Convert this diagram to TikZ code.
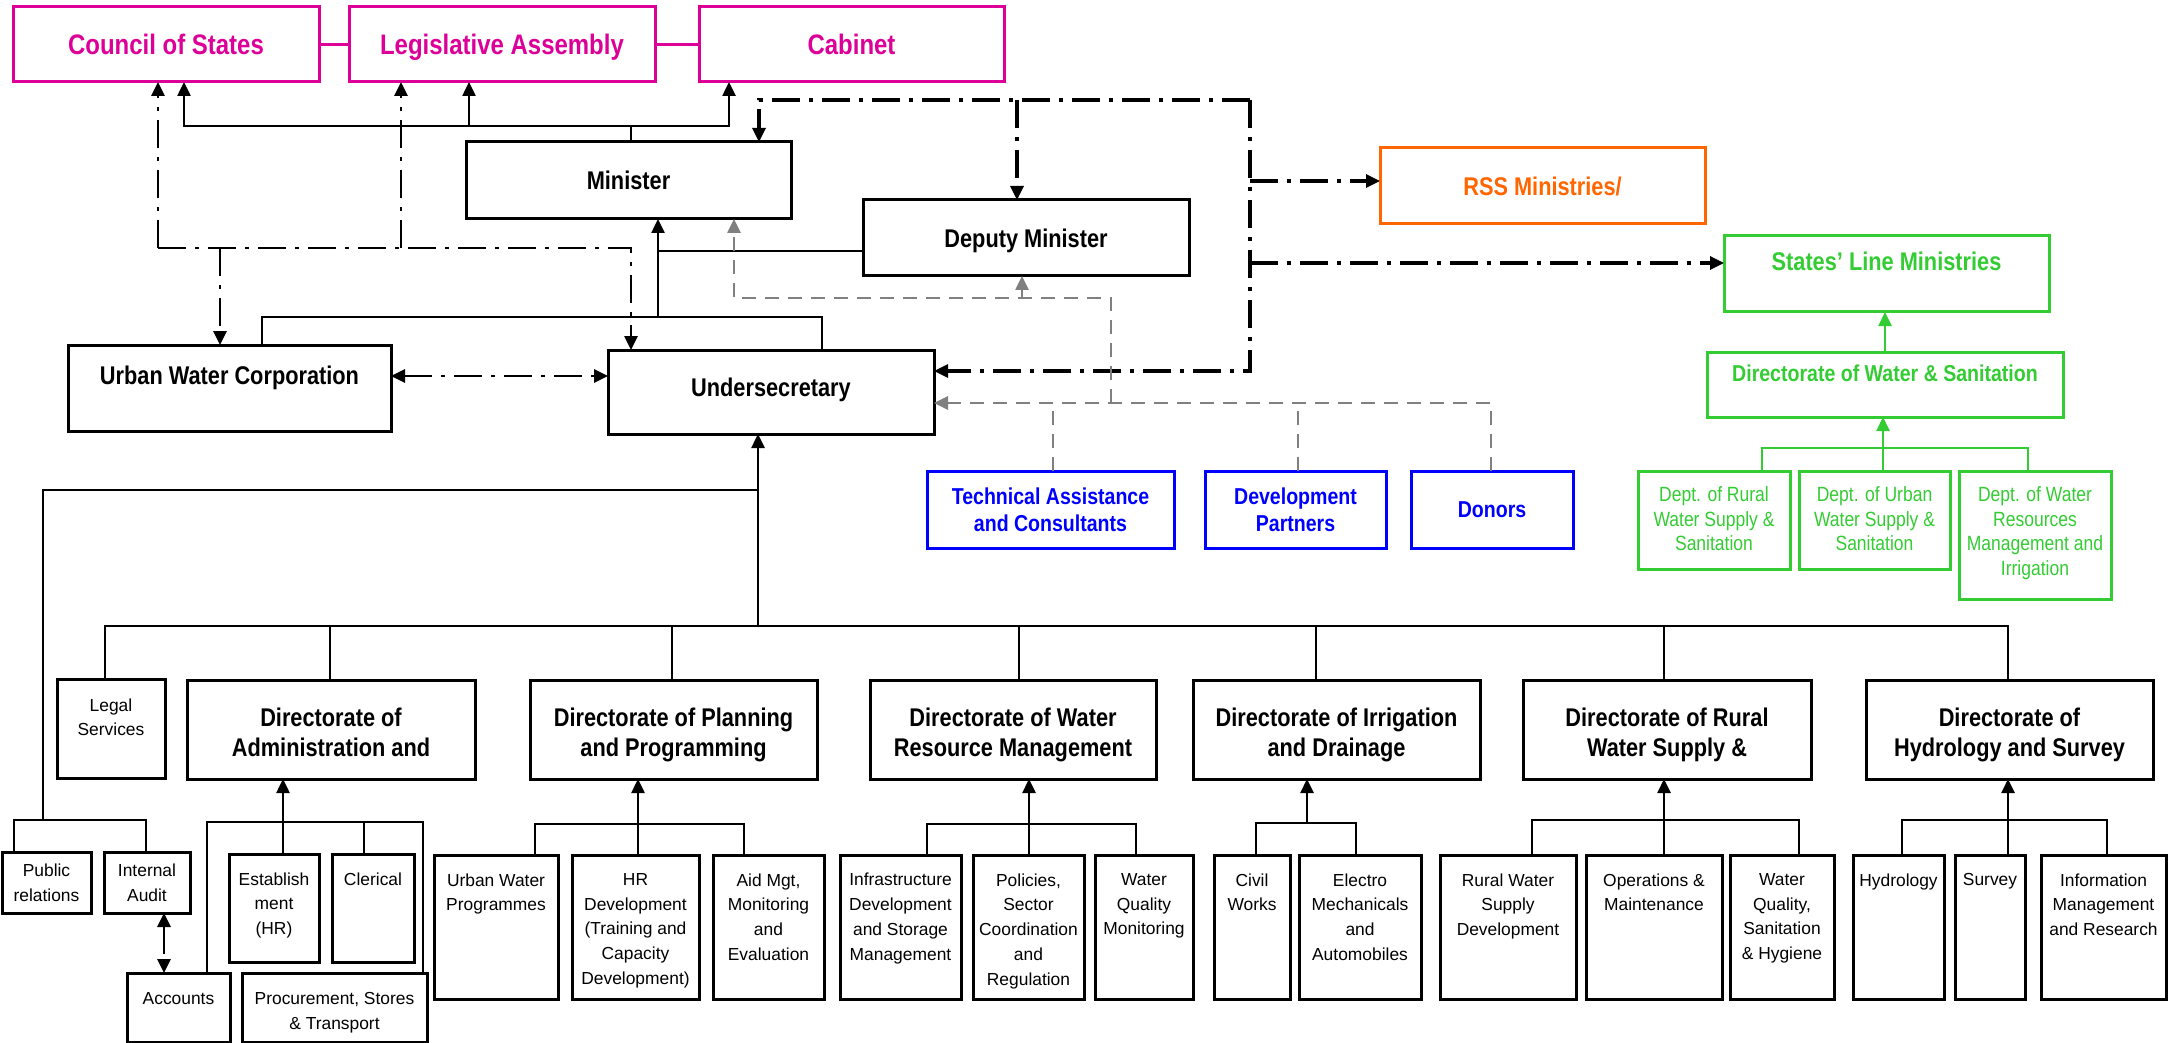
\documentclass[tikz,border=0pt]{standalone}
\usepackage{fontspec}
\setmainfont{Liberation Sans}
\newfontfamily\narrowfont{Liberation Sans}[FakeStretch=0.85]
\usetikzlibrary{arrows.meta}
\definecolor{pinkc}{RGB}{220,0,152}
\definecolor{orangec}{RGB}{255,102,0}
\definecolor{greenc}{RGB}{51,204,51}
\definecolor{bluec}{RGB}{0,0,255}
\definecolor{grayc}{RGB}{128,128,128}
\newcommand\mkbox[7]{\node[#1, minimum width={(#5-#3)*0.5pt}, minimum height={(#6-#4)*0.5pt}] (#2) at ({(#3+#5)/2},{(#4+#6)/2}) {#7};}
\newcommand\tnode[4]{\node[#1, anchor=north, align=center, inner sep=0pt] (#2) at (#3) {#4};}
\tikzset{
  bx/.style={draw, line width=1.5pt, inner sep=0pt, outer sep=0pt, align=center},
  blkbox/.style={bx, draw=black},
  pinkbox/.style={bx, draw=pinkc, text=pinkc},
  orbox/.style={bx, draw=orangec, text=orangec},
  grbox/.style={bx, draw=greenc, text=greenc},
  blbox/.style={bx, draw=bluec, text=bluec},
  fbig/.style={font=\narrowfont\bfseries\fontsize{14.1}{17}\selectfont},
  fmain/.style={font=\narrowfont\bfseries\fontsize{12.8}{15}\selectfont},
  fmid/.style={font=\narrowfont\bfseries\fontsize{11.5}{13.5}\selectfont},
  fdept/.style={font=\narrowfont\fontsize{10.3}{12.25}\selectfont},
  fchild/.style={font=\fontsize{8.7}{12.4}\selectfont},
  oneA/.style={text height=10.1pt, text depth=0pt},
  oneB/.style={text height=9.2pt, text depth=0pt},
  oneC/.style={text height=8.2pt, text depth=0pt},
  oneD/.style={text height=6.2pt, text depth=0pt},
  conn/.style={line width=1.25pt, line join=miter},
  arr/.style={-{Triangle[length=7pt,width=6.5pt]}},
  dd/.style={line width=1.3pt, dash pattern=on 14pt off 4.5pt on 2pt off 4.5pt},
  ddb/.style={line width=1.6pt, dash pattern=on 14pt off 4.5pt on 2pt off 4.5pt},
  gd/.style={draw=grayc, line width=1.3pt, dash pattern=on 7pt off 4.5pt},
  gconn/.style={draw=greenc, line width=1.3pt, line join=miter},
}
\begin{document}
\begin{tikzpicture}[x=0.5pt,y=-0.5pt]
\useasboundingbox (0,0) rectangle (2179,1043);
\fill[white] (0,0) rectangle (2179,1043);
% ---------- top level ----------
\mkbox{pinkbox,fbig,oneA}{cos}{13}{7}{319}{82}{Council of States}
\mkbox{pinkbox,fbig,oneA}{la}{349}{7}{655}{82}{Legislative Assembly}
\mkbox{pinkbox,fbig,oneA}{cab}{699}{7}{1004}{82}{Cabinet}
\mkbox{blkbox,fmain,oneB}{min}{466}{142}{791}{219}{Minister}
\mkbox{blkbox,fmain,oneB}{dep}{863}{200}{1189}{276}{Deputy Minister}
\mkbox{orbox,fmain,oneB}{rss}{1380}{148}{1705}{224}{RSS Ministries/}
\mkbox{grbox}{sta}{1724}{236}{2049}{312}{}
\node[fmain,oneB,text=greenc,inner sep=0pt] (sta-t) at (1886.5,261) {States’ Line Ministries};
\mkbox{grbox}{dws}{1707}{352}{2063}{417}{}
\node[fmid,oneC,text=greenc,inner sep=0pt] (dws-t) at (1885,373) {Directorate of Water \& Sanitation};
\mkbox{grbox}{dr}{1638}{471}{1790}{569}{}
\mkbox{grbox}{du}{1799}{471}{1950}{569}{}
\mkbox{grbox}{dwat}{1959}{471}{2111}{599}{}
\tnode{fdept,text=greenc}{dr-t}{1714,486.5}{Dept. of Rural\\Water Supply \&\\Sanitation}
\tnode{fdept,text=greenc}{du-t}{1874.5,486.5}{Dept. of Urban\\Water Supply \&\\Sanitation}
\tnode{fdept,text=greenc}{dwat-t}{2035,486.5}{Dept. of Water\\Resources\\Management and\\Irrigation}
\mkbox{blkbox}{uwc}{68}{345}{391}{431}{}
\node[fmain,oneB,inner sep=0pt] (uwc-t) at (229.5,375) {Urban Water Corporation};
\mkbox{blkbox}{us}{608}{350}{934}{434}{}
\node[fmain,oneB,inner sep=0pt] (us-t) at (771,387) {Undersecretary};
\mkbox{blbox,fmid}{tech}{927}{471}{1174}{548}{Technical Assistance\\and Consultants}
\mkbox{blbox,fmid}{dev}{1205}{471}{1386}{548}{Development\\Partners}
\mkbox{blbox,fmid,oneC}{don}{1411}{471}{1573}{548}{Donors}
% ---------- directorates ----------
\mkbox{blkbox}{legal}{57}{679}{165}{778}{}
\tnode{fchild}{legal-t}{111,698}{Legal\\Services}
\mkbox{blkbox}{dad}{187}{680}{475}{779}{}
\mkbox{blkbox}{dpl}{530}{680}{817}{779}{}
\mkbox{blkbox}{dwr}{870}{680}{1156}{779}{}
\mkbox{blkbox}{dir}{1193}{680}{1480}{779}{}
\mkbox{blkbox}{dru}{1523}{680}{1811}{779}{}
\mkbox{blkbox}{dhy}{1866}{680}{2153}{779}{}
\tnode{fmain}{dad-t}{331,708}{Directorate of\\Administration and}
\tnode{fmain}{dpl-t}{673.5,708}{Directorate of Planning\\and Programming}
\tnode{fmain}{dwr-t}{1013,708}{Directorate of Water\\Resource Management}
\tnode{fmain}{dir-t}{1336.5,708}{Directorate of Irrigation\\and Drainage}
\tnode{fmain}{dru-t}{1667,708}{Directorate of Rural\\Water Supply \&}
\tnode{fmain}{dhy-t}{2009.5,708}{Directorate of\\Hydrology and Survey}
% ---------- units ----------
\mkbox{blkbox,fchild}{pr}{2}{852}{91}{913}{Public\\relations}
\mkbox{blkbox,fchild}{ia}{104}{852}{190}{913}{Internal\\Audit}
\mkbox{blkbox}{acc}{127}{973}{230}{1042}{}
\mkbox{blkbox}{proc}{242}{973}{427}{1042}{}
\tnode{fchild}{acc-t}{178.5,992}{Accounts}
\tnode{fchild}{proc-t}{334.5,992}{Procurement, Stores\\\& Transport}
\mkbox{blkbox}{est}{229}{854}{319}{962}{}
\mkbox{blkbox}{cler}{332}{854}{414}{962}{}
\tnode{fchild}{est-t}{274,872}{Establish\\ment\\(HR)}
\tnode{fchild}{cler-t}{373,872}{Clerical}
\mkbox{blkbox}{uwp}{434}{855}{558}{999}{}
\mkbox{blkbox}{hr}{572}{855}{699}{999}{}
\mkbox{blkbox}{aid}{713}{855}{824}{999}{}
\mkbox{blkbox}{infra}{840}{855}{961}{999}{}
\mkbox{blkbox}{pol}{973}{855}{1084}{999}{}
\mkbox{blkbox}{wqm}{1095}{855}{1193}{999}{}
\mkbox{blkbox}{civ}{1214}{855}{1290}{999}{}
\mkbox{blkbox}{ele}{1299}{855}{1421}{999}{}
\mkbox{blkbox}{rws}{1440}{855}{1576}{999}{}
\mkbox{blkbox}{om}{1586}{855}{1722}{999}{}
\mkbox{blkbox}{wqs}{1730}{855}{1834}{999}{}
\mkbox{blkbox}{hyd}{1853}{855}{1944}{999}{}
\mkbox{blkbox}{sur}{1955}{855}{2025}{999}{}
\mkbox{blkbox}{info}{2041}{855}{2166}{999}{}
\tnode{fchild}{uwp-t}{496,873}{Urban Water\\Programmes}
\tnode{fchild}{hr-t}{635.5,873}{HR\\Development\\(Training and\\Capacity\\Development)}
\tnode{fchild}{aid-t}{768.5,873}{Aid Mgt,\\Monitoring\\and\\Evaluation}
\tnode{fchild}{infra-t}{900.5,873}{Infrastructure\\Development\\and Storage\\Management}
\tnode{fchild}{pol-t}{1028.5,873}{Policies,\\Sector\\Coordination\\and\\Regulation}
\tnode{fchild}{wqm-t}{1144,873}{Water\\Quality\\Monitoring}
\tnode{fchild}{civ-t}{1252,873}{Civil\\Works}
\tnode{fchild}{ele-t}{1360,873}{Electro\\Mechanicals\\and\\Automobiles}
\tnode{fchild}{rws-t}{1508,873}{Rural Water\\Supply\\Development}
\tnode{fchild}{om-t}{1654,873}{Operations \&\\Maintenance}
\tnode{fchild}{wqs-t}{1782,873}{Water\\Quality,\\Sanitation\\\& Hygiene}
\tnode{fchild}{hyd-t}{1898.5,873}{Hydrology}
\tnode{fchild}{sur-t}{1990,873}{Survey}
\tnode{fchild}{info-t}{2103.5,873}{Information\\Management\\and Research}
% ---------- connectors: top ----------
\draw[pinkc, line width=1.5pt] (cos.east) -- (la.west);
\draw[pinkc, line width=1.5pt] (la.east) -- (cab.west);
\coordinate (mj) at (631,126);
\coordinate (laj) at (469,126);
\draw[conn] (631,0 |- min.north) -- (mj);
\draw[conn,arr] (mj) -- (184,126) -- (184,0 |- cos.south);
\draw[conn,arr] (laj) -- (469,0 |- la.south);
\draw[conn,arr] (mj) -- (729,126) -- (729,0 |- cab.south);
\coordinate (dj) at (658,251);
\coordinate (uj) at (658,317);
\draw[conn] (dep.west |- dj) -- (dj);
\draw[conn,arr] (uj) -- (658,0 |- min.south);
\draw[conn] (262,0 |- uwc.north) -- (262,317) -- (822,317) -- (822,0 |- us.north);
% dash-dot left
\coordinate (lj) at (158,248);
\draw[dd,arr] (lj) -- (158,0 |- cos.south);
\draw[dd,arr] (lj) -- (631,248) -- (631,0 |- us.north);
\draw[dd,arr] (220,248) -- (220,0 |- uwc.north);
\draw[dd,arr] (401,248) -- (401,0 |- la.south);
\draw[dd,{Triangle[length=7pt,width=6.5pt]}-{Triangle[length=7pt,width=6.5pt]}] (uwc.east |- 0,376) -- (us.west |- 0,376);
% dash-dot right
\coordinate (rj) at (1250,100);
\draw[ddb,arr] (rj) -- (759,100) -- (759,0 |- min.north);
\draw[ddb,arr] (1017,100) -- (1017,0 |- dep.north);
\draw[ddb,arr] (rj) -- (1250,371) -- (us.east |- 0,371);
\draw[ddb,arr] (1250,181) -- (rss.west |- 0,181);
\draw[ddb,arr] (1250,263) -- (sta.west |- 0,263);
% gray dashed
\draw[gd,arr] (1491,0 |- don.north) -- (1491,403) -- (us.east |- 0,403);
\draw[gd] (1053,0 |- tech.north) -- (1053,403);
\draw[gd] (1298,0 |- dev.north) -- (1298,403);
\draw[gd,arr] (1111,403) -- (1111,298) -- (734,298) -- (734,0 |- min.south);
\draw[gd,arr] (1022,298) -- (1022,0 |- dep.south);
% green
\draw[gconn,arr] (1885,0 |- dws.north) -- (1885,0 |- sta.south);
\draw[gconn] (1762,0 |- dr.north) -- (1762,448) -- (2028,448) -- (2028,0 |- dwat.north);
\draw[gconn,arr] (1883,0 |- du.north) -- (1883,0 |- dws.south);
% ---------- connectors: bottom ----------
\draw[conn,arr] (758,626) -- (758,0 |- us.south);
\draw[conn] (43,0 |- 0,820) -- (43,490) -- (758,490);
\draw[conn] (105,0 |- legal.north) -- (105,626) -- (2008,626) -- (2008,0 |- dhy.north);
\draw[conn] (330,626) -- (330,0 |- dad.north);
\draw[conn] (672,626) -- (672,0 |- dpl.north);
\draw[conn] (1019,626) -- (1019,0 |- dwr.north);
\draw[conn] (1316,626) -- (1316,0 |- dir.north);
\draw[conn] (1664,626) -- (1664,0 |- dru.north);
\draw[conn] (14,0 |- pr.north) -- (14,820) -- (146,820) -- (146,0 |- ia.north);
\draw[dd,{Triangle[length=7pt,width=6.5pt]}-{Triangle[length=7pt,width=6.5pt]}] (164,0 |- ia.south) -- (164,0 |- acc.north);
\draw[conn] (207,0 |- acc.north) -- (207,822) -- (423,822) -- (423,0 |- proc.north);
\draw[conn,arr] (283,0 |- est.north) -- (283,0 |- dad.south);
\draw[conn] (364,822) -- (364,0 |- cler.north);
\draw[conn] (535,0 |- uwp.north) -- (535,824) -- (744,824) -- (744,0 |- aid.north);
\draw[conn,arr] (638,0 |- hr.north) -- (638,0 |- dpl.south);
\draw[conn] (927,0 |- infra.north) -- (927,824) -- (1136,824) -- (1136,0 |- wqm.north);
\draw[conn,arr] (1029,0 |- pol.north) -- (1029,0 |- dwr.south);
\draw[conn] (1256,0 |- civ.north) -- (1256,823) -- (1356,823) -- (1356,0 |- ele.north);
\draw[conn,arr] (1307,823) -- (1307,0 |- dir.south);
\draw[conn] (1532,0 |- rws.north) -- (1532,820) -- (1799,820) -- (1799,0 |- wqs.north);
\draw[conn,arr] (1664,0 |- om.north) -- (1664,0 |- dru.south);
\draw[conn] (1902,0 |- hyd.north) -- (1902,820) -- (2107,820) -- (2107,0 |- info.north);
\draw[conn,arr] (2008,0 |- sur.north) -- (2008,0 |- dhy.south);
\end{tikzpicture}
\end{document}
